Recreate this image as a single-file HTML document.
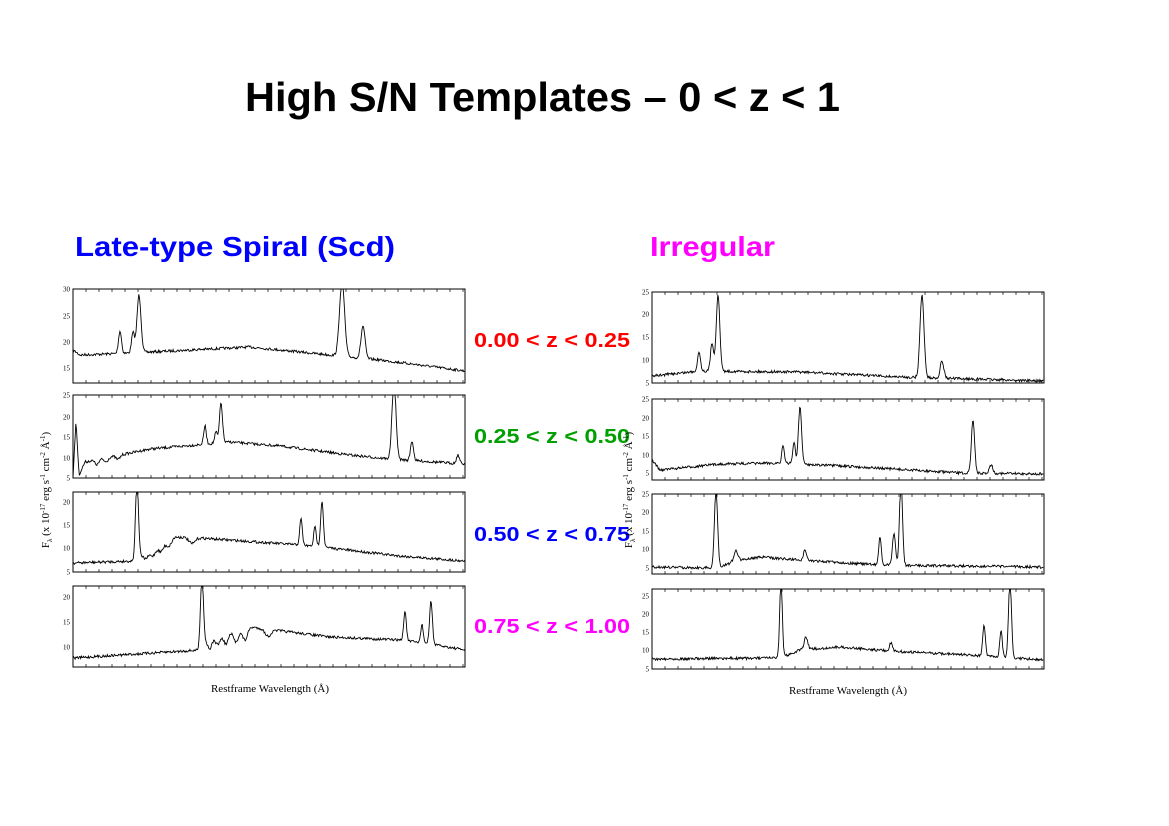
<!DOCTYPE html>
<html><head><meta charset="utf-8"><style>
html,body{margin:0;padding:0;background:#fff;width:1169px;height:826px;overflow:hidden}
svg{display:block}
.t{font-family:"Liberation Sans",sans-serif;font-weight:bold}
.tk{font-family:"Liberation Serif",serif;font-size:7px;fill:#000}
.ax{font-family:"Liberation Serif",serif;font-size:11px;fill:#000}
</style></head><body>
<svg id="s" width="1169" height="826" xmlns="http://www.w3.org/2000/svg">
<text class="t" x="245" y="111" font-size="41" textLength="595" lengthAdjust="spacingAndGlyphs">High S/N Templates – 0 &lt; z &lt; 1</text>
<text class="t" x="75" y="256" font-size="28" fill="#0000ff" textLength="320" lengthAdjust="spacingAndGlyphs">Late-type Spiral (Scd)</text>
<text class="t" x="650" y="256" font-size="28" fill="#ff00ff" textLength="125" lengthAdjust="spacingAndGlyphs">Irregular</text>
<text class="t" x="474" y="347" font-size="20" fill="#ff0000" textLength="156" lengthAdjust="spacingAndGlyphs">0.00 &lt; z &lt; 0.25</text>
<text class="t" x="474" y="443" font-size="20" fill="#00a000" textLength="156" lengthAdjust="spacingAndGlyphs">0.25 &lt; z &lt; 0.50</text>
<text class="t" x="474" y="541" font-size="20" fill="#0000ff" textLength="156" lengthAdjust="spacingAndGlyphs">0.50 &lt; z &lt; 0.75</text>
<text class="t" x="474" y="633" font-size="20" fill="#ff00ff" textLength="156" lengthAdjust="spacingAndGlyphs">0.75 &lt; z &lt; 1.00</text>
<text class="ax" x="270" y="692" text-anchor="middle">Restframe Wavelength (Å)</text>
<text class="ax" x="848" y="694" text-anchor="middle">Restframe Wavelength (Å)</text>
<text class="ax" transform="translate(49,490) rotate(-90)" text-anchor="middle">F<tspan font-size="7" dy="3">λ</tspan><tspan dy="-3"> (x 10</tspan><tspan font-size="7" dy="-4">-17</tspan><tspan dy="4"> erg s</tspan><tspan font-size="7" dy="-4">-1</tspan><tspan dy="4"> cm</tspan><tspan font-size="7" dy="-4">-2</tspan><tspan dy="4"> Å</tspan><tspan font-size="7" dy="-4">-1</tspan><tspan dy="4">)</tspan></text>
<text class="ax" transform="translate(632,490) rotate(-90)" text-anchor="middle">F<tspan font-size="7" dy="3">λ</tspan><tspan dy="-3"> (x 10</tspan><tspan font-size="7" dy="-4">-17</tspan><tspan dy="4"> erg s</tspan><tspan font-size="7" dy="-4">-1</tspan><tspan dy="4"> cm</tspan><tspan font-size="7" dy="-4">-2</tspan><tspan dy="4"> Å</tspan><tspan font-size="7" dy="-4">-1</tspan><tspan dy="4">)</tspan></text>
<g id="g"></g>
</svg>
<script>
var seed=7;function rnd(){seed=(seed*16807)%2147483647;return seed/2147483647;}
var P=[
{x0:73,x1:465,y0:289,y1:383,base:[[73,350],[80,355],[130,353],[250,347],[300,352],[380,360],[420,365],[465,371]],
 pk:[[120,331,1.5],[133,333,1.5],[139,295,2],[342,280,2.5],[363,326,2]],
 yl:[["30",289],["25",316],["20",342],["15",368]],xl:[["4500",73],["5000",138],["5500",204],["6000",269],["6500",334],["7000",400],["7500",465]]},
{x0:73,x1:465,y0:395,y1:478,base:[[73,478],[76,420],[79,475],[85,462],[150,449],[230,442],[280,446],[350,455],[390,459],[465,464]],
 pk:[[205,426,1.3],[216,432,1.3],[221,403,1.5],[394,380,2],[412,441,1.5],[458,455,1.5]],
 dip:[[97,5,2],[106,4,2],[118,4,2]],
 yl:[["25",395],["20",417],["15",437],["10",458],["5",478]],xl:[["4000",107],["4500",163],["5000",220],["5500",277],["6000",333],["6500",390],["7000",444]]},
{x0:73,x1:465,y0:492,y1:572,base:[[73,563],[134,561],[145,553],[175,537],[200,538],[300,545],[330,548],[400,556],[465,561]],
 pk:[[137,480,1.5],[301,519,1.3],[315,527,1.3],[322,501,1.4]],
 dip:[[146,6,2.5],[153,7,2.5],[161,7,2.5],[169,6,2.5],[192,6,3]],
 yl:[["20",502],["15",525],["10",548],["5",572]],xl:[["3500",106],["4000",176],["4500",249],["5000",322],["5500",394],["6000",465]]},
{x0:73,x1:465,y0:586,y1:667,base:[[73,658],[200,650],[206,642],[220,633],[250,627],[330,637],[400,640],[430,644],[465,650]],
 pk:[[202,575,1.5],[405,611,1.3],[422,625,1.3],[431,601,1.4]],
 dip:[[210,9,2],[218,10,2.5],[226,12,2.5],[236,12,2.5],[245,12,2.5],[268,7,3]],
 yl:[["20",597],["15",622],["10",647]],xl:[["3000",73],["3500",163],["4000",252],["4500",342],["5000",431]]},
{x0:652,x1:1044,y0:292,y1:383,base:[[652,376],[700,371],[800,372],[900,377],[1044,381]],
 pk:[[699,352,1.5],[712,343,1.5],[718,295,1.8],[922,295,2],[942,361,1.8]],
 yl:[["25",292],["20",314],["15",337],["10",360],["5",383]],xl:[["4500",652],["5000",717],["5500",783],["6000",848],["6500",913],["7000",979],["7500",1044]]},
{x0:652,x1:1044,y0:399,y1:480,base:[[652,460],[660,470],[720,464],[780,463],[860,467],[960,473],[1044,474]],
 pk:[[783,445,1.2],[794,442,1.3],[800,407,1.6],[973,419,1.6],[991,465,1.8]],
 yl:[["25",399],["20",418],["15",436],["10",455],["5",473]],xl:[["4000",688],["4500",743],["5000",799],["5500",855],["6000",910],["6500",966],["7000",1021]]},
{x0:652,x1:1044,y0:494,y1:574,base:[[652,567],[715,568],[740,560],[760,557],[800,560],[880,565],[1044,567]],
 pk:[[716,490,1.6],[736,551,2],[805,550,1.5],[880,537,1.3],[894,533,1.5],[901,480,1.5]],
 yl:[["25",494],["20",512],["15",531],["10",549],["5",568]],xl:[["3500",683],["4000",756],["4500",828],["5000",900],["5500",972],["6000",1044]]},
{x0:652,x1:1044,y0:589,y1:669,base:[[652,659],[780,658],[800,650],[840,647],[890,651],[970,655],[1044,660]],
 pk:[[781,580,1.3],[806,637,1.8],[891,643,1.5],[984,625,1.3],[1001,631,1.3],[1010,580,1.5]],
 yl:[["25",596],["20",614],["15",632],["10",650],["5",669]],xl:[["3000",652],["3500",741],["4000",830],["4500",919],["5000",1009]]}
];
var h='';
P.forEach(function(p){
 h+='<rect x="'+p.x0+'" y="'+p.y0+'" width="'+(p.x1-p.x0)+'" height="'+(p.y1-p.y0)+'" fill="none" stroke="#000" stroke-width="1"/>';
 for(var x=p.x0;x<=p.x1;x+=13){h+='<line x1="'+x+'" y1="'+p.y0+'" x2="'+x+'" y2="'+(p.y0+3)+'" stroke="#000" stroke-width="0.7"/><line x1="'+x+'" y1="'+p.y1+'" x2="'+x+'" y2="'+(p.y1-3)+'" stroke="#000" stroke-width="0.7"/>';}
 p.yl.forEach(function(l){h+='<text class="tk" x="'+(p.x0-3)+'" y="'+(l[1]+2.5)+'" text-anchor="end">'+l[0]+'</text>';});
 p.xl.forEach(function(l){h+='<text class="tk" x="'+l[0]+'" y="'+(p.y1+7)+'" text-anchor="middle">'+l[0]+'</text>';});
 var pts=[];
 for(var x=p.x0;x<=p.x1;x+=0.7){
  var b=p.base,y=b[b.length-1][1];
  for(var i=0;i<b.length-1;i++){if(x>=b[i][0]&&x<=b[i+1][0]){var f=(x-b[i][0])/((b[i+1][0]-b[i][0])||1);y=b[i][1]+f*(b[i+1][1]-b[i][1]);break;}}
  var by=y;
  y+= (rnd()-0.5)*2.6;
  p.pk.forEach(function(k){var d=(x-k[0])/k[2];y+=(k[1]-by)*Math.exp(-d*d/2);});
  (p.dip||[]).forEach(function(k){var d=(x-k[0])/k[2];y+=k[1]*Math.exp(-d*d/2);});
  y=Math.max(p.y0,Math.min(p.y1,y));
  pts.push(x.toFixed(1)+','+y.toFixed(1));
 }
 h+='<polyline points="'+pts.join(' ')+'" fill="none" stroke="#000" stroke-width="0.9"/>';
});
document.getElementById('g').innerHTML=h;
</script>
</body></html>
